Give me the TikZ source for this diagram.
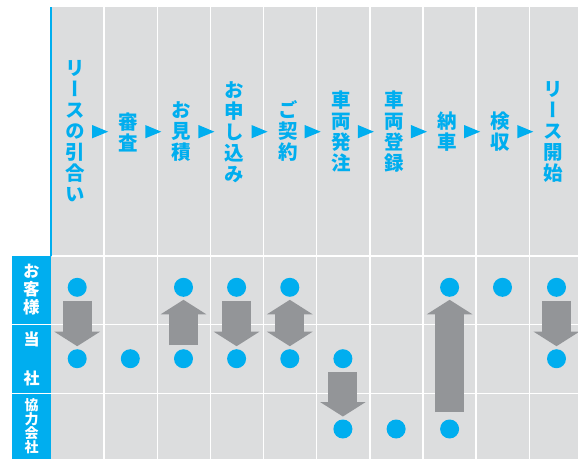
\documentclass[tikz,border=0pt]{standalone}
\usepackage{fontspec}
\newfontfamily\jp[RawFeature=+vert]{Noto Sans CJK JP}
\usetikzlibrary{arrows.meta}
\definecolor{bgray}{RGB}{220,221,222}
\definecolor{cyanb}{RGB}{0,174,239}
\definecolor{agray}{RGB}{147,149,152}
\tikzset{
  steptext/.style={text=cyanb, align=center, inner sep=0pt,
    font=\jp\bfseries\fontsize{19.5}{21}\selectfont},
  lab/.style={text=white, align=center, inner sep=0pt},
  dot/.style={circle, fill=cyanb, minimum size=19pt, inner sep=0pt},
  blk/.style={draw=agray, line width=29pt,
    shorten <=13.5pt, shorten >=12.5pt},
  tipb/.style={-{Triangle[width=45pt,length=14.5pt]}},
  sep/.style={white, line width=1.4pt},
}
\begin{document}
\begin{tikzpicture}[x=1pt,y=-1pt]
\useasboundingbox (0,0) rectangle (578,459);
% background
\fill[bgray] (51,7) rectangle (578,459);
\fill[cyanb] (50,7) rectangle (52,256);
\fill[cyanb] (12.3,256) rectangle (50.7,459);
% grid lines
\foreach \i in {1,...,9}
  \draw[sep] ({51+53.14*\i},7) -- ({51+53.14*\i},459);
\draw[sep] (52,256) -- (578,256);
\draw[sep] (12.3,324.7) -- (578,324.7);
\draw[sep] (12.3,393.3) -- (578,393.3);
% step triangles
\foreach \i in {1,...,9}
  \fill[cyanb] ({51+53.14*\i-12},125) -- ({51+53.14*\i+4},131.7) -- ({51+53.14*\i-12},138.3) -- cycle;
% step texts
\node[steptext] (t1) at (75.3,131.5) {リ\\ー\\ス\\の\\引\\合\\い};
\node[steptext] (t2) at (128.4,132.5) {審\\査};
\node[steptext] (t3) at (181.5,132) {お\\見\\積};
\node[steptext] (t4) at (234.7,132) {お\\申\\し\\込\\み};
\node[steptext] (t5) at (287.8,130.5) {ご\\契\\約};
\node[steptext] (t6) at (340.9,131.5) {車\\両\\発\\注};
\node[steptext] (t7) at (394.1,131.5) {車\\両\\登\\録};
\node[steptext] (t8) at (447.2,132) {納\\車};
\node[steptext] (t9) at (500.3,132) {検\\収};
\node[steptext] (t10) at (553.5,131.5) {リ\\ー\\ス\\開\\始};
% row labels
\node[lab, font=\jp\bfseries\fontsize{16.5}{18}\selectfont] (l1) at (31.5,289.5) {お\\客\\様};
\node[lab, font=\jp\bfseries\fontsize{16}{38.5}\selectfont] (l2) at (31.5,358.7) {当\\社};
\node[lab, font=\jp\bfseries\fontsize{14}{14}\selectfont] (l3) at (31.5,426) {協\\力\\会\\社};
% dots
\node[dot] (a1) at (77.2,287.3) {};
\node[dot] (b1) at (77.2,358.7) {};
\node[dot] (b2) at (130.3,358.7) {};
\node[dot] (a3) at (183.5,287.3) {};
\node[dot] (b3) at (183.5,358.7) {};
\node[dot] (a4) at (236.6,287.3) {};
\node[dot] (b4) at (236.6,358.7) {};
\node[dot] (a5) at (289.8,287.3) {};
\node[dot] (b5) at (289.8,358.7) {};
\node[dot] (b6) at (342.9,358.7) {};
\node[dot] (c6) at (342.9,429) {};
\node[dot] (c7) at (396.1,429) {};
\node[dot] (a8) at (449.6,287.3) {};
\node[dot] (c8) at (449.6,429) {};
\node[dot] (a9) at (502.5,287.3) {};
\node[dot] (a10) at (556.5,287.3) {};
\node[dot] (b10) at (556.5,358.7) {};
% block arrows
\draw[blk, tipb] (a1.center) -- (b1.center);
\draw[blk, tipb] (b3.center) -- (a3.center);
\draw[blk, tipb] (a4.center) -- (b4.center);
\draw[blk, {Triangle[width=45pt,length=14.5pt]}-{Triangle[width=45pt,length=14.5pt]}, shorten <=12.5pt] (a5.center) -- (b5.center);
\draw[blk, tipb] (b6.center) -- (c6.center);
\draw[blk, tipb, shorten <=17pt] (c8.center) -- (a8.center);
\draw[blk, tipb] (a10.center) -- (b10.center);
\end{tikzpicture}
\end{document}
